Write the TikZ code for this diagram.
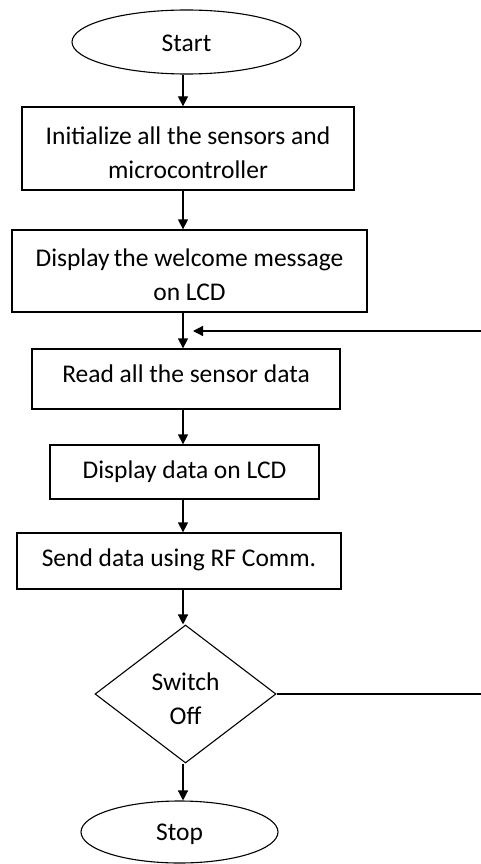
\documentclass[tikz,border=0pt]{standalone}
\usepackage{fontspec}
\setmainfont{Carlito}
\usetikzlibrary{shapes.geometric,arrows.meta}
\begin{document}
\begin{tikzpicture}[x=1pt,y=-1pt,
  every node/.style={font=\fontsize{25.5}{34}\selectfont, text=black},
  procbox/.style={draw, line width=1.3pt, rectangle, inner sep=0pt},
  terminal/.style={draw, line width=1.1pt, ellipse, inner sep=0pt, minimum width=229pt, minimum height=64pt},
  decision/.style={draw, line width=1.1pt, diamond, inner sep=0pt, aspect=1.31},
  caption/.style={align=center, inner sep=0pt},
  flow/.style={line width=1.3pt, -{Triangle[length=10pt,width=10pt]}},
  link/.style={line width=1.3pt}]
\useasboundingbox (0,0) rectangle (480,864);
\fill[white] (0,0) rectangle (480,864);

% vertical spine for the downward arrows
\coordinate (spine) at (183,0);

\node[terminal, label={[caption, yshift=-1pt]center:Start}] (start) at (186.5,42) {};
\node[procbox, minimum width=332pt, minimum height=83pt,
  label={[caption, yshift=-4pt]center:{Initialize all the sensors and\\microcontroller}}]
  (init) at (188,148.5) {};
\node[procbox, minimum width=355pt, minimum height=82pt,
  label={[caption, yshift=-4pt]center:{Display\,the welcome message\\on LCD}}]
  (welcome) at (189.5,271) {};
\node[procbox, minimum width=308pt, minimum height=60pt,
  label={[caption, yshift=5pt]center:Read all the sensor data}]
  (read) at (186,379) {};
\node[procbox, minimum width=269pt, minimum height=54pt,
  label={[caption]center:Display data on LCD}]
  (show) at (184.5,472) {};
\node[procbox, minimum width=324pt, minimum height=56pt,
  label={[caption, yshift=1pt]center:Send data using RF Comm.}]
  (send) at (179,561) {};
\node[decision, minimum width=181pt, minimum height=138pt,
  label={[caption, yshift=-5pt]center:{Switch\\Off}}]
  (sw) at (185.5,694) {};
\node[terminal, minimum width=197pt, minimum height=62pt,
  label={[caption, yshift=-2pt]center:Stop}]
  (stop) at (179.5,832) {};

\draw[flow] (start.south -| spine) -- (init.north -| spine);
\draw[flow] (init.south -| spine) -- (welcome.north -| spine);
\draw[flow] (welcome.south -| spine) -- (read.north -| spine);
\draw[flow] (read.south -| spine) -- (show.north -| spine);
\draw[flow] (show.south -| spine) -- (send.north -| spine);
\draw[flow] (send.south -| spine) -- (sw.north -| spine);
\draw[flow] (sw.south -| spine) -- (stop.north -| spine);

% loop back from the decision to the read step
\coordinate (loopin) at (193,331);
\coordinate (rightrail) at (483,0);
\draw[link] (sw.east) -- (sw.east -| rightrail) -- (loopin -| rightrail);
\draw[flow] (loopin -| rightrail) -- (loopin);
\end{tikzpicture}
\end{document}
